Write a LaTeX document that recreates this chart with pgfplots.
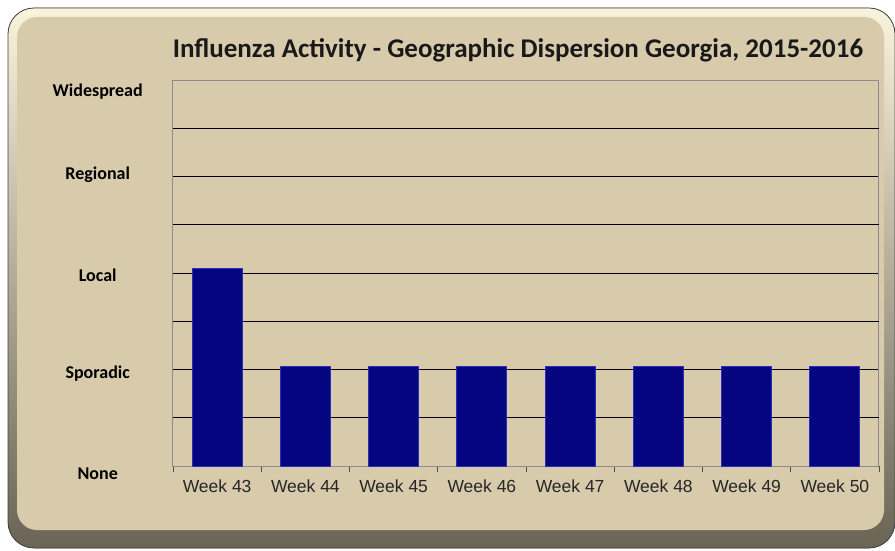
\documentclass[border=0pt]{standalone}
\usepackage{pgfplots}
\pgfplotsset{compat=1.18}
\usepackage{fontspec}
\setmainfont{Carlito}
\newfontfamily\arialf{Liberation Sans}
\definecolor{tan}{RGB}{216,203,171}
\definecolor{cream}{RGB}{250,243,220}
\definecolor{shadow}{RGB}{105,100,84}
\definecolor{navy}{RGB}{5,5,130}
\definecolor{navyedge}{RGB}{45,45,185}
\begin{document}
\begin{tikzpicture}[x=1pt,y=1pt]
\useasboundingbox (0,0) rectangle (895,550);
\fill[rounded corners=26, top color=cream, bottom color=shadow] (8,2) rectangle (895,542);
\draw[rounded corners=26, draw=black!75, line width=0.8pt] (8,2) rectangle (895,542);
\fill[rounded corners=20, tan] (17,20) rectangle (884,533);
\node[font=\bfseries\fontsize{27}{32}\selectfont, text=black!90] at (518,500) {Influenza Activity - Geographic Dispersion Georgia, 2015-2016};
\begin{axis}[
  at={(173pt,84pt)}, anchor=south west,
  width=706pt, height=386pt, scale only axis,
  xmin=-0.5, xmax=7.5, ymin=0, ymax=8,
  xtick={0,...,7},
  xticklabels={Week 43,Week 44,Week 45,Week 46,Week 47,Week 48,Week 49,Week 50},
  minor xtick={-0.5,0.5,...,7.5},
  xtick pos=bottom, tick align=outside,
  major x tick style={draw=none},
  minor x tick style={black!70, line width=0.8pt},
  minor tick length=6pt,
  xticklabel style={font=\arialf\fontsize{17.5}{20}\selectfont, text=black!85, yshift=-6pt},
  ytick={0,2,4,6,8},
  extra y ticks={1,3,5,7},
  extra y tick labels={},
  extra y tick style={grid=major, major tick length=0pt},
  yticklabels={\raisebox{-13pt}[0pt][0pt]{None},\raisebox{-8.5pt}[0pt][0pt]{Sporadic},\raisebox{-8.5pt}[0pt][0pt]{Local},\raisebox{-2.5pt}[0pt][0pt]{Regional},\raisebox{-16pt}[0pt][0pt]{Widespread}},
  yticklabel style={font=\bfseries\fontsize{18}{21}\selectfont, anchor=center, xshift=-71pt},
  major y tick style={draw=none},
  ymajorgrids,
  grid style={black, line width=0.8pt},
  axis line style={draw=black!45, line width=1pt},
  axis background/.style={fill=tan},
]
\addplot[ybar, bar width=50pt, draw=navyedge, line width=1pt, fill=navy]
  coordinates {(0,4.1) (1,2.07) (2,2.07) (3,2.07) (4,2.07) (5,2.07) (6,2.07) (7,2.07)};
\end{axis}
\end{tikzpicture}
\end{document}
